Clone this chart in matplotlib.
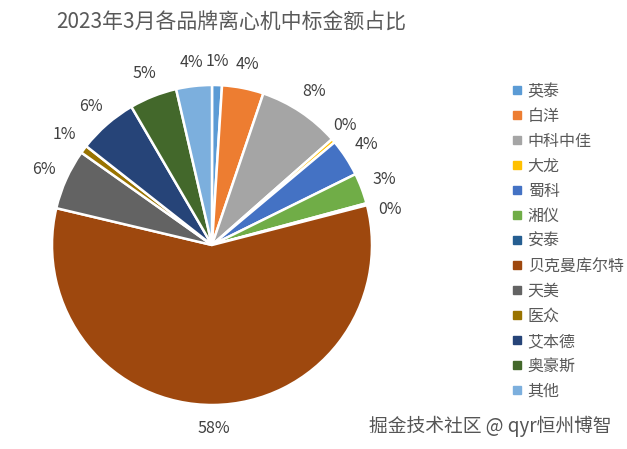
import numpy as np
import matplotlib
matplotlib.use("Agg")
import matplotlib.pyplot as plt
from matplotlib.lines import Line2D

plt.rcParams['font.family'] = ['Noto Sans CJK SC', 'DejaVu Sans']

# 数据
brands = ["英泰", "白洋", "中科中佳", "大龙", "蜀科", "湘仪", "安泰",
          "贝克曼库尔特", "天美", "医众", "艾本德", "奥豪斯", "其他"]
shares = [1.0, 4.2, 8.3, 0.4, 3.8, 3.1, 0.2, 57.7, 6.1, 0.8, 6.0, 4.8, 3.6]
colors = ["#5B9BD5", "#ED7D31", "#A5A5A5", "#FFC000", "#4472C4", "#70AD47",
          "#255E91", "#9E480E", "#636363", "#997300", "#264478", "#43682B",
          "#7CAFDD"]
title = "2023年3月各品牌离心机中标金额占比"

W, H = 627, 449
fig = plt.figure(figsize=(W / 100, H / 100), dpi=100)

# 饼图位置 (像素)
cx, cy, r = 212, 245, 160
ax = fig.add_axes([(cx - r) / W, (H - cy - r) / H, 2 * r / W, 2 * r / H])
wedges, texts, autotexts = ax.pie(
    shares, colors=colors, startangle=90, counterclock=False,
    autopct="%.0f%%", pctdistance=1.15, radius=1,
    wedgeprops=dict(edgecolor="white", linewidth=1.8),
    textprops=dict(fontsize=11.5, color="#404040"))
ax.set_xlim(-1, 1)
ax.set_ylim(-1, 1)
ax.set_aspect("equal")
ax.axis("off")

# 避免重叠的小调整
autotexts[6].set_y(autotexts[6].get_position()[1] - 0.07)
autotexts[3].set_x(autotexts[3].get_position()[0] - 0.04)

fig.text(231 / W, 1 - 23 / H, title, ha="center", va="center",
         fontsize=15, color="#595959")

handles = [Line2D([0], [0], marker="s", linestyle="", markersize=5.5,
                  markerfacecolor=c, markeredgecolor=c) for c in colors]
fig.legend(handles, brands, loc="upper left",
           bbox_to_anchor=(503 / W, 1 - 75 / H), frameon=False,
           fontsize=11.5, labelcolor="#595959", handlelength=0.8,
           handletextpad=0.25, labelspacing=0.5, borderpad=0)

fig.text(490 / W, 1 - 426 / H, "掘金技术社区 @ qyr恒州博智", ha="center",
         va="center", fontsize=13.5, color="#555555")

fig.savefig("out.png", dpi=100, facecolor="white")
